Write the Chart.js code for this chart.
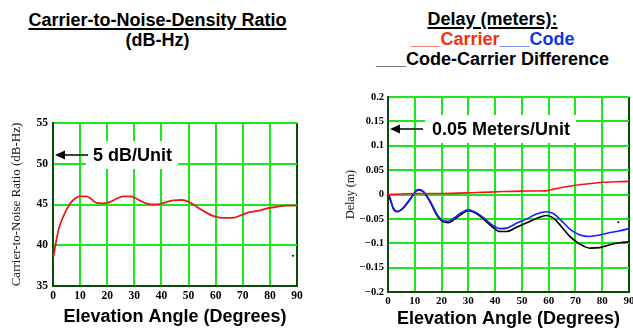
<!DOCTYPE html>
<html>
<head>
<meta charset="utf-8">
<script src="https://cdn.jsdelivr.net/npm/chart.js@4.4.0/dist/chart.umd.min.js"></script>
<style>
body{margin:0;width:633px;height:329px;overflow:hidden;background:#fff;position:relative;font-family:"Liberation Sans",Arial,sans-serif}
canvas{position:absolute}
#cnCanvas{left:0;top:100px}
#delayCanvas{left:330px;top:70px}
.title{position:absolute;text-align:center;font-weight:bold;font-size:18px;line-height:20px;color:#000;white-space:nowrap}
.title u{text-decoration-thickness:2px;text-underline-offset:2px}
</style>
</head>
<body>
<div class="title" style="left:0;top:10px;width:315px"><u>Carrier-to-Noise-Density Ratio</u><br>(dB-Hz)</div>
<div class="title" style="left:352px;top:9px;width:281px"><u>Delay (meters):</u><br><span style="color:#f53010">___Carrier</span><span style="color:#1038e0">___Code</span><br>___Code-Carrier Difference</div>
<canvas id="cnCanvas" width="320" height="229"></canvas>
<canvas id="delayCanvas" width="320" height="280"></canvas>
<script>
// tick labels
const xTicks = ['0', '10', '20', '30', '40', '50', '60', '70', '80', '90']
const cnTicks = ['35', '40', '45', '50', '55']
const delayTicks = ['\u22120.2', '\u22120.15', '\u22120.1', '\u22120.05', '0', '0.05', '0.1', '0.15', '0.2']

// carrier-to-noise density (dB-Hz) vs elevation
const cnAngles = [0.2, 1, 2.2, 3.9, 6.1, 8, 9.8, 12.3, 14, 16, 18.4, 21, 23.4, 25.8, 28.3, 30, 32, 34.4, 37, 39.3, 41.8, 44.3, 47.3, 49.2, 51.6, 54, 56.6, 59, 61.5, 64.5, 67, 69.5, 72.5, 76, 79.3, 82.4, 86, 90]
const cnValues = [38.6, 40.2, 42.1, 43.6, 45.0, 45.7, 46.0, 46.0, 45.7, 45.2, 45.15, 45.3, 45.7, 46.0, 46.0, 45.85, 45.5, 45.15, 45.0, 45.05, 45.3, 45.5, 45.55, 45.45, 45.05, 44.5, 44.0, 43.6, 43.4, 43.35, 43.4, 43.7, 44.05, 44.25, 44.55, 44.7, 44.85, 44.85]
const cnStray = [88.5, 38.7]

// delay (m) vs elevation
const carrierAngles = [0, 5, 10, 20, 33, 43, 50, 59, 62, 66.5, 70, 76.5, 80, 85, 90]
const carrierDelay = [0, 0.001, 0.002, 0.002, 0.004, 0.006, 0.007, 0.0075, 0.011, 0.016, 0.019, 0.023, 0.025, 0.026, 0.027]
const codeAngles = [0, 0.75, 2, 3.5, 5.7, 8.2, 11.3, 13.2, 15.7, 18.2, 20.1, 22.5, 25, 27.5, 30, 33, 36.2, 39.3, 41.8, 44.3, 48, 51.8, 55.5, 59.2, 61.7, 64.8, 67.9, 71.7, 75.4, 79.1, 82.9, 86.6, 90]
const codeDelay = [0, -0.006, -0.03, -0.0355, -0.027, -0.0095, 0.009, 0.006, -0.013, -0.04, -0.0525, -0.055, -0.047, -0.037, -0.0315, -0.0375, -0.05, -0.064, -0.07, -0.069, -0.059, -0.05, -0.04, -0.0355, -0.039, -0.054, -0.071, -0.083, -0.086, -0.083, -0.078, -0.0745, -0.07]
const diffDelay = [0, -0.01, -0.028, -0.035, -0.028, -0.011, 0.01, 0.006, -0.015, -0.042, -0.054, -0.058, -0.05, -0.04, -0.033, -0.039, -0.053, -0.068, -0.076, -0.076, -0.067, -0.058, -0.049, -0.043, -0.048, -0.066, -0.086, -0.102, -0.11, -0.109, -0.103, -0.099, -0.097]
const delayStray = [86, -0.057]

const gridGreen = '#1ee61e'
const darkGreen = '#0a4a0a'
const serif = '"Liberation Serif","Times New Roman",serif'
const sans = '"Liberation Sans",Arial,sans-serif'

function pts(xs, ys) {
    return xs.map((x, i) => ({x: x, y: ys[i]}))
}

// arrow + "x/Unit" note on a white box
const unitNote = {
    id: 'unitNote',
    afterDatasetsDraw(chart, args, opts) {
        const ctx = chart.ctx, a = chart.chartArea
        const y = a.top + 32
        const tx = a.left + opts.textOffset
        ctx.save()
        ctx.font = 'bold 18px ' + sans
        const w = ctx.measureText(opts.text).width
        ctx.fillStyle = '#fff'
        ctx.fillRect(tx - 7, y - 14, w + 13, 28)
        ctx.fillStyle = '#000'
        ctx.textBaseline = 'middle'
        ctx.fillText(opts.text, tx, y + 1)
        ctx.strokeStyle = '#000'
        ctx.lineWidth = 1.5
        ctx.beginPath()
        ctx.moveTo(a.left + 9, y)
        ctx.lineTo(a.left + 35, y)
        ctx.stroke()
        ctx.beginPath()
        ctx.moveTo(a.left + 2, y)
        ctx.lineTo(a.left + 12, y - 4.5)
        ctx.lineTo(a.left + 12, y + 4.5)
        ctx.closePath()
        ctx.fill()
        ctx.restore()
    }
}

new Chart(document.getElementById('cnCanvas'), {
    type: 'line',
    data: {
        datasets: [{
            data: pts(cnAngles, cnValues),
            borderColor: '#ee1818', borderWidth: 1.8, pointRadius: 0,
            cubicInterpolationMode: 'monotone'
        }, {
            data: [{x: cnStray[0], y: cnStray[1]}],
            showLine: false, pointRadius: 1, pointBackgroundColor: '#000', borderColor: '#000', borderWidth: 0
        }]
    },
    options: {
        responsive: false, animation: false, devicePixelRatio: 1,
        layout: {padding: {top: 23, right: 23, left: 0, bottom: 0}},
        plugins: {legend: {display: false}, tooltip: {enabled: false}, unitNote: {text: '5 dB/Unit', textOffset: 40}},
        scales: {
            x: {
                type: 'linear', min: 0, max: 90,
                ticks: {stepSize: 10, padding: 3, color: '#000', maxRotation: 0, autoSkip: false,
                    font: {family: serif, size: 11.5, weight: 'bold'}, callback: (v, i) => xTicks[i]},
                grid: {color: c => (c.tick && c.tick.value === 90) ? darkGreen : gridGreen, lineWidth: 2, drawTicks: false},
                border: {color: darkGreen, width: 2},
                title: {display: true, text: 'Elevation Angle (Degrees)', color: '#000',
                    font: {family: sans, size: 18, weight: 'bold'}, padding: {top: 0, bottom: 1}},
                afterFit: s => { s.height = 43 }
            },
            y: {
                min: 35, max: 55,
                ticks: {stepSize: 5, padding: 5, color: '#000', font: {family: serif, size: 11.5, weight: 'bold'}, callback: (v, i) => cnTicks[i]},
                grid: {color: gridGreen, lineWidth: 2, drawTicks: false},
                border: {color: darkGreen, width: 2},
                title: {display: true, text: 'Carrier-to-Noise Ratio (dB-Hz)', color: '#111',
                    font: {family: serif, size: 13}, padding: {top: 9, bottom: 0}},
                afterFit: s => { s.width = 53 }
            }
        }
    },
    plugins: [unitNote]
})

new Chart(document.getElementById('delayCanvas'), {
    type: 'line',
    data: {
        datasets: [{
            data: pts(carrierAngles, carrierDelay),
            borderColor: '#ff1010', borderWidth: 1.6, pointRadius: 0, cubicInterpolationMode: 'monotone'
        }, {
            data: pts(codeAngles, codeDelay),
            borderColor: '#1a1aff', borderWidth: 1.6, pointRadius: 0, cubicInterpolationMode: 'monotone'
        }, {
            data: pts(codeAngles, diffDelay),
            borderColor: '#000', borderWidth: 1.6, pointRadius: 0, cubicInterpolationMode: 'monotone'
        }, {
            data: [{x: delayStray[0], y: delayStray[1]}],
            showLine: false, pointRadius: 1, pointBackgroundColor: '#000', borderColor: '#000', borderWidth: 0
        }]
    },
    options: {
        responsive: false, animation: false, devicePixelRatio: 1,
        layout: {padding: {top: 27, right: 21, left: 0, bottom: 0}},
        plugins: {legend: {display: false}, tooltip: {enabled: false}, unitNote: {text: '0.05 Meters/Unit', textOffset: 44}},
        scales: {
            x: {
                type: 'linear', min: 0, max: 90,
                ticks: {stepSize: 10, padding: 3, color: '#000', maxRotation: 0, autoSkip: false,
                    font: {family: serif, size: 11, weight: 'bold'}, callback: (v, i) => xTicks[i]},
                grid: {color: c => (c.tick && c.tick.value === 90) ? darkGreen : gridGreen, lineWidth: 2, drawTicks: false},
                border: {color: darkGreen, width: 2},
                title: {display: true, text: 'Elevation Angle (Degrees)', color: '#000',
                    font: {family: sans, size: 18, weight: 'bold'}, padding: {top: 0, bottom: 19.7}},
                afterFit: s => { s.height = 58 }
            },
            y: {
                min: -0.2, max: 0.2,
                ticks: {stepSize: 0.05, padding: 4, color: '#000', font: {family: serif, size: 10.5, weight: 'bold'}, callback: (v, i) => delayTicks[i]},
                grid: {color: gridGreen, lineWidth: 2, drawTicks: false},
                border: {color: darkGreen, width: 2},
                title: {display: true, text: 'Delay (m)', color: '#111',
                    font: {family: serif, size: 12}, padding: {top: 14, bottom: 0}},
                afterFit: s => { s.width = 58 }
            }
        }
    },
    plugins: [unitNote]
})
</script>
</body>
</html>
